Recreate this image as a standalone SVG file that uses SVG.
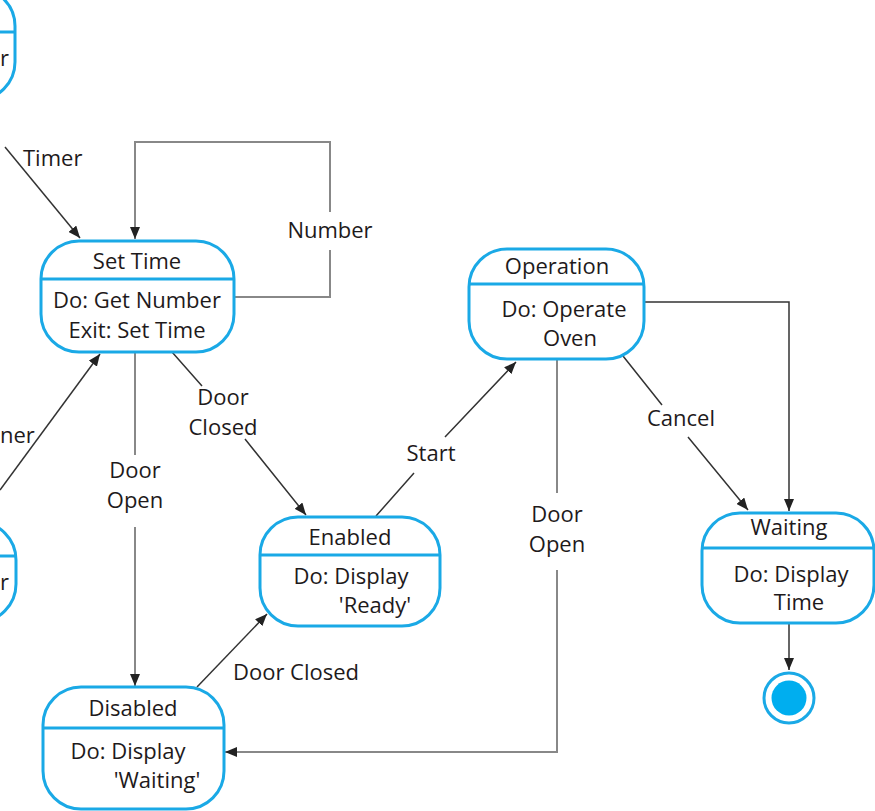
<svg xmlns="http://www.w3.org/2000/svg" width="875" height="811" viewBox="0 0 875 811">
<defs>
<marker id="ah" viewBox="0 0 12 10" refX="12" refY="5" markerWidth="12" markerHeight="10" markerUnits="userSpaceOnUse" orient="auto">
<path d="M0,0 L12,5 L0,10 z" fill="#222"/>
</marker>
<style>
.node{fill:#fff;stroke:#1aa9e6;stroke-width:3}
.div{stroke:#1aa9e6;stroke-width:3}
text{font-family:"Open Sans","Liberation Sans",sans-serif;font-size:22px;fill:#1e1a1b}
.t{text-anchor:middle}
.c{fill:none;stroke:#333;stroke-width:1.5}
.g{fill:none;stroke:#888;stroke-width:2}
</style>
</defs>
<rect width="875" height="811" fill="#fff"/>
<g id="connectors">
<path class="c" d="M5,147 L80,238" marker-end="url(#ah)"/>
<path class="g" d="M234,297 H330 V250 M330,212 V142 H135 V239" marker-end="url(#ah)"/>
<path class="c" d="M0,490 L100,354" marker-end="url(#ah)"/>
<path class="g" d="M135,353 V455 M135,527 V686" marker-end="url(#ah)"/>
<path class="c" d="M172,352 L202,386 M245,439 L306,515" marker-end="url(#ah)"/>
<path class="c" d="M376,516 L414,473 M445,437 L516,362" marker-end="url(#ah)"/>
<path class="c" d="M197,687 L267,614" marker-end="url(#ah)"/>
<path class="g" d="M557,360 V493 M557,570 V752 H225" marker-end="url(#ah)"/>
<path class="c" d="M623,356 L662,405 M688,437 L748,510" marker-end="url(#ah)"/>
<path class="c" d="M644,302 H789 V511" marker-end="url(#ah)"/>
<path class="c" d="M789,624 V670" marker-end="url(#ah)"/>
</g>
<g id="labels">
<text x="23" y="166">Timer</text>
<text x="330" y="238" class="t">Number</text>
<text x="0" y="443">ner</text>
<text x="135" y="478" class="t">Door</text>
<text x="135" y="508" class="t">Open</text>
<text x="223" y="405" class="t">Door</text>
<text x="223" y="435" class="t">Closed</text>
<text x="431" y="461" class="t">Start</text>
<text x="296" y="680" class="t">Door Closed</text>
<text x="557" y="522" class="t">Door</text>
<text x="557" y="552" class="t">Open</text>
<text x="681" y="426" class="t">Cancel</text>
</g>
<g id="node-top-left">
<rect class="node" x="-160" y="-12" width="175" height="112" rx="38"/>
<line class="div" x1="-160" y1="32" x2="15" y2="32"/>
<text x="0" y="66">r</text>
</g>
<g id="node-bottom-left">
<rect class="node" x="-160" y="522" width="176" height="100" rx="38"/>
<line class="div" x1="-160" y1="556" x2="16" y2="556"/>
<text x="0" y="590">r</text>
</g>
<g id="set-time">
<rect class="node" x="41" y="241" width="193" height="111" rx="38"/>
<line class="div" x1="41" y1="279" x2="234" y2="279"/>
<text x="137" y="269" class="t">Set Time</text>
<text x="137" y="308" class="t">Do: Get Number</text>
<text x="137" y="338" class="t">Exit: Set Time</text>
</g>
<g id="operation">
<rect class="node" x="469" y="249" width="175" height="110" rx="38"/>
<line class="div" x1="469" y1="284" x2="644" y2="284"/>
<text x="557" y="274" class="t">Operation</text>
<text x="564" y="317" class="t">Do: Operate</text>
<text x="570" y="346" class="t">Oven</text>
</g>
<g id="enabled">
<rect class="node" x="260" y="517" width="180" height="109" rx="38"/>
<line class="div" x1="260" y1="555" x2="440" y2="555"/>
<text x="350" y="545" class="t">Enabled</text>
<text x="351" y="584" class="t">Do: Display</text>
<text x="375" y="613" class="t">'Ready'</text>
</g>
<g id="disabled">
<rect class="node" x="43" y="687" width="181" height="122" rx="38"/>
<line class="div" x1="43" y1="728" x2="224" y2="728"/>
<text x="133" y="716" class="t">Disabled</text>
<text x="128" y="759" class="t">Do: Display</text>
<text x="157" y="788" class="t">'Waiting'</text>
</g>
<g id="waiting">
<rect class="node" x="702" y="513" width="172" height="110" rx="38"/>
<line class="div" x1="702" y1="548" x2="874" y2="548"/>
<text x="789" y="535" class="t">Waiting</text>
<text x="791" y="582" class="t">Do: Display</text>
<text x="799" y="610" class="t">Time</text>
</g>
<g id="final">
<circle cx="789" cy="698" r="25" fill="#fff" stroke="#1aa9e6" stroke-width="3"/>
<circle cx="789" cy="698" r="17.5" fill="#00aeef"/>
</g>
</svg>
